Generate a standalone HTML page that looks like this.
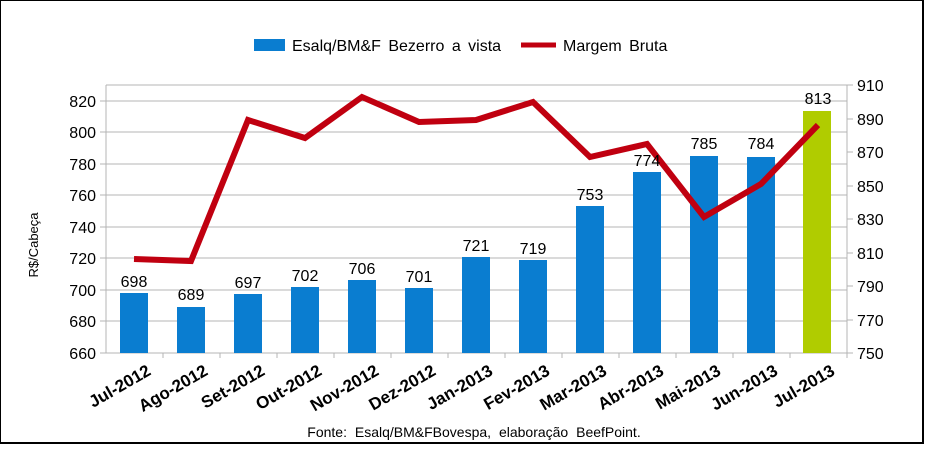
<!DOCTYPE html><html><head><style>body{margin:0;background:#fff}</style></head><body>
<svg width="925" height="445" xmlns="http://www.w3.org/2000/svg" font-family="Liberation Sans, sans-serif">
<rect x="0" y="0" width="923" height="443" fill="#fff" stroke="#000" stroke-width="2"/>
<g stroke="#b4b4b4" stroke-width="1">
<line x1="106" y1="85" x2="847" y2="85"/>
<line x1="106" y1="101" x2="847" y2="101"/><line x1="106" y1="132" x2="847" y2="132"/>
<line x1="106" y1="164" x2="847" y2="164"/><line x1="106" y1="195" x2="847" y2="195"/>
<line x1="106" y1="227" x2="847" y2="227"/><line x1="106" y1="258" x2="847" y2="258"/>
<line x1="106" y1="290" x2="847" y2="290"/><line x1="106" y1="321" x2="847" y2="321"/>
<line x1="106" y1="85" x2="106" y2="353"/><line x1="847" y1="85" x2="847" y2="358"/>
<line x1="100" y1="353" x2="847" y2="353"/>
</g>
<g stroke="#b4b4b4"><line x1="100" y1="101" x2="106" y2="101"/><line x1="100" y1="132" x2="106" y2="132"/><line x1="100" y1="164" x2="106" y2="164"/><line x1="100" y1="195" x2="106" y2="195"/><line x1="100" y1="227" x2="106" y2="227"/><line x1="100" y1="258" x2="106" y2="258"/><line x1="100" y1="290" x2="106" y2="290"/><line x1="100" y1="321" x2="106" y2="321"/>
<line x1="847" y1="85" x2="853" y2="85"/><line x1="847" y1="119" x2="853" y2="119"/><line x1="847" y1="152" x2="853" y2="152"/><line x1="847" y1="186" x2="853" y2="186"/><line x1="847" y1="219" x2="853" y2="219"/><line x1="847" y1="253" x2="853" y2="253"/><line x1="847" y1="286" x2="853" y2="286"/><line x1="847" y1="320" x2="853" y2="320"/><line x1="847" y1="353" x2="853" y2="353"/>
<line x1="163" y1="353" x2="163" y2="358"/><line x1="220" y1="353" x2="220" y2="358"/><line x1="277" y1="353" x2="277" y2="358"/><line x1="334" y1="353" x2="334" y2="358"/><line x1="391" y1="353" x2="391" y2="358"/><line x1="448" y1="353" x2="448" y2="358"/><line x1="505" y1="353" x2="505" y2="358"/><line x1="562" y1="353" x2="562" y2="358"/><line x1="619" y1="353" x2="619" y2="358"/><line x1="676" y1="353" x2="676" y2="358"/><line x1="733" y1="353" x2="733" y2="358"/><line x1="790" y1="353" x2="790" y2="358"/>
</g>
<g font-size="16" text-anchor="end" fill="#000">
<text x="96" y="107">820</text><text x="96" y="138">800</text><text x="96" y="170">780</text><text x="96" y="201">760</text><text x="96" y="233">740</text><text x="96" y="264">720</text><text x="96" y="296">700</text><text x="96" y="327">680</text><text x="96" y="359">660</text>
</g>
<g font-size="16" fill="#000">
<text x="857" y="91">910</text><text x="857" y="125">890</text><text x="857" y="158">870</text><text x="857" y="192">850</text><text x="857" y="225">830</text><text x="857" y="259">810</text><text x="857" y="292">790</text><text x="857" y="326">770</text><text x="857" y="359">750</text>
</g>
<text transform="translate(38,245) rotate(-90)" font-size="13" text-anchor="middle">R$/Cabeça</text>
<g fill="#0a7dd0">
<rect x="120" y="293" width="28" height="60"/><rect x="177" y="307" width="28" height="46"/><rect x="234" y="294" width="28" height="59"/><rect x="291" y="287" width="28" height="66"/><rect x="348" y="280" width="28" height="73"/><rect x="405" y="288" width="28" height="65"/><rect x="462" y="257" width="28" height="96"/><rect x="519" y="260" width="28" height="93"/><rect x="576" y="206" width="28" height="147"/><rect x="633" y="172" width="28" height="181"/><rect x="690" y="156" width="28" height="197"/><rect x="747" y="157" width="28" height="196"/>
</g>
<rect x="803" y="111" width="28" height="242" fill="#b0cc00"/>
<polyline fill="none" stroke="#c00010" stroke-width="6" stroke-linejoin="miter" points="134,259 191,261 248,120 305,138 362,97 419,122 476,120 533,102 590,157 647,144 704,217 761,184 818,125"/>
<g font-size="16" text-anchor="middle">
<text x="134" y="287">698</text><text x="191" y="300">689</text><text x="248" y="288">697</text><text x="305" y="281">702</text><text x="362" y="274">706</text><text x="419" y="282">701</text><text x="476" y="251">721</text><text x="533" y="254">719</text><text x="590" y="200">753</text><text x="647" y="166">774</text><text x="704" y="149">785</text><text x="761" y="149">784</text><text x="818" y="104">813</text>
</g>
<g font-size="17" font-weight="bold" text-anchor="end">
<text transform="translate(152,374) rotate(-30)">Jul-2012</text>
<text transform="translate(209,374) rotate(-30)">Ago-2012</text>
<text transform="translate(266,374) rotate(-30)">Set-2012</text>
<text transform="translate(323,374) rotate(-30)">Out-2012</text>
<text transform="translate(380,374) rotate(-30)">Nov-2012</text>
<text transform="translate(437,374) rotate(-30)">Dez-2012</text>
<text transform="translate(494,374) rotate(-30)">Jan-2013</text>
<text transform="translate(551,374) rotate(-30)">Fev-2013</text>
<text transform="translate(608,374) rotate(-30)">Mar-2013</text>
<text transform="translate(665,374) rotate(-30)">Abr-2013</text>
<text transform="translate(722,374) rotate(-30)">Mai-2013</text>
<text transform="translate(779,374) rotate(-30)">Jun-2013</text>
<text transform="translate(836,374) rotate(-30)">Jul-2013</text>
</g>
<rect x="254" y="39" width="31" height="12" fill="#0a7dd0"/>
<text x="292" y="51" font-size="16" word-spacing="3">Esalq/BM&amp;F Bezerro a vista</text>
<line x1="521" y1="45" x2="556" y2="45" stroke="#c00010" stroke-width="5"/>
<text x="563" y="51" font-size="16" word-spacing="3">Margem Bruta</text>
<text x="474" y="437" font-size="14" text-anchor="middle" word-spacing="4">Fonte: Esalq/BM&amp;FBovespa, elaboração BeefPoint.</text>
</svg>
</body></html>
